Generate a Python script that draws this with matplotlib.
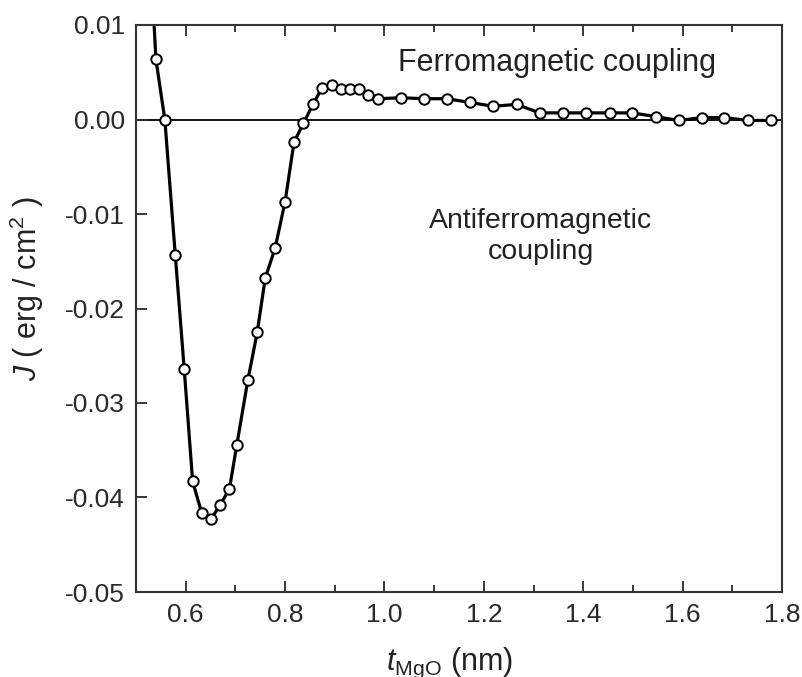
import matplotlib
matplotlib.use("Agg")
import matplotlib.pyplot as plt
from matplotlib.ticker import MultipleLocator

plt.rcParams['font.family'] = ['Liberation Sans', 'DejaVu Sans']
plt.rcParams['mathtext.fontset'] = 'custom'
plt.rcParams['mathtext.rm'] = 'Liberation Sans'
plt.rcParams['mathtext.it'] = 'Liberation Sans:italic'

# measured points: MgO thickness (nm) and coupling J (erg/cm^2)
t_mgo = [0.540, 0.558, 0.579, 0.597, 0.614, 0.632, 0.651, 0.669, 0.688, 0.703,
         0.725, 0.744, 0.760, 0.780, 0.800, 0.818, 0.837, 0.856, 0.874, 0.894,
         0.912, 0.931, 0.949, 0.967, 0.987, 1.033, 1.080, 1.126, 1.172, 1.219,
         1.266, 1.312, 1.359, 1.406, 1.453, 1.499, 1.546, 1.592, 1.639, 1.684,
         1.732, 1.778]
J = [0.0064, 0.0000, -0.0143, -0.0264, -0.0383, -0.0416, -0.0423, -0.0408, -0.0391, -0.0344,
     -0.0276, -0.0225, -0.0168, -0.0136, -0.0087, -0.0024, -0.0004, 0.0016, 0.0033, 0.0037,
     0.0032, 0.0032, 0.0032, 0.0026, 0.0022, 0.0023, 0.0022, 0.0022, 0.0018, 0.0014,
     0.0016, 0.0007, 0.0007, 0.0007, 0.0007, 0.0007, 0.0003, -0.0001, 0.0002, 0.0002,
     -0.0001, -0.0001]

# the connecting curve starts above the plotted range
curve_x = [0.534] + t_mgo
curve_y = [0.0125] + J

xticks = [0.6, 0.8, 1.0, 1.2, 1.4, 1.6, 1.8]
xlabels = ['0.6', '0.8', '1.0', '1.2', '1.4', '1.6', '1.8']
yticks = [0.01, 0.0, -0.01, -0.02, -0.03, -0.04, -0.05]
ylabels = ['0.01', '0.00', '-0.01', '-0.02', '-0.03', '-0.04', '-0.05']

fig = plt.figure(figsize=(8.03, 6.77), dpi=100)
ax = fig.add_axes([136/803, 1-592/677, (782-136)/803, (592-25)/677])

ax.axhline(0, color='black', lw=1.3, zorder=1)
ax.plot(curve_x, curve_y, color='black', lw=2.3, zorder=2)
ax.plot(t_mgo, J, 'o', ms=7.5, mfc='white', mec='black', mew=1.4, zorder=3)

ax.set_xlim(0.5, 1.8)
ax.set_ylim(-0.05, 0.01)
ax.xaxis.set_minor_locator(MultipleLocator(0.1))
ax.set_xticks(xticks)
ax.set_xticklabels(xlabels)
ax.set_yticks(yticks)
ax.set_yticklabels(ylabels)

ax.tick_params(which='both', direction='in', top=True, right=False,
               labelsize=19, colors='#2a2a2a', pad=8)
ax.tick_params(which='major', length=8, width=1.3)
ax.tick_params(which='minor', length=5, width=1.3)
for s in ax.spines.values():
    s.set_linewidth(1.5)
    s.set_color('#333333')

ax.set_xlabel(r'$\mathit{t}_{\mathrm{MgO}}$ (nm)', fontsize=22, color='#222222')
ax.set_ylabel(r'$\mathit{J}$ ( erg / cm$^2$ )', fontsize=22, color='#222222')
ax.xaxis.set_label_coords(0.486, -0.095)
ax.yaxis.set_label_coords(-0.14, 0.535)

ax.text(1.348, 0.0060, 'Ferromagnetic coupling', fontsize=22,
        color='#222222', ha='center', va='center')
ax.text(1.315, -0.0124, 'Antiferromagnetic\ncoupling', fontsize=20.5,
        color='#222222', ha='center', va='center', linespacing=1.25)

fig.savefig('out.png', dpi=100)
